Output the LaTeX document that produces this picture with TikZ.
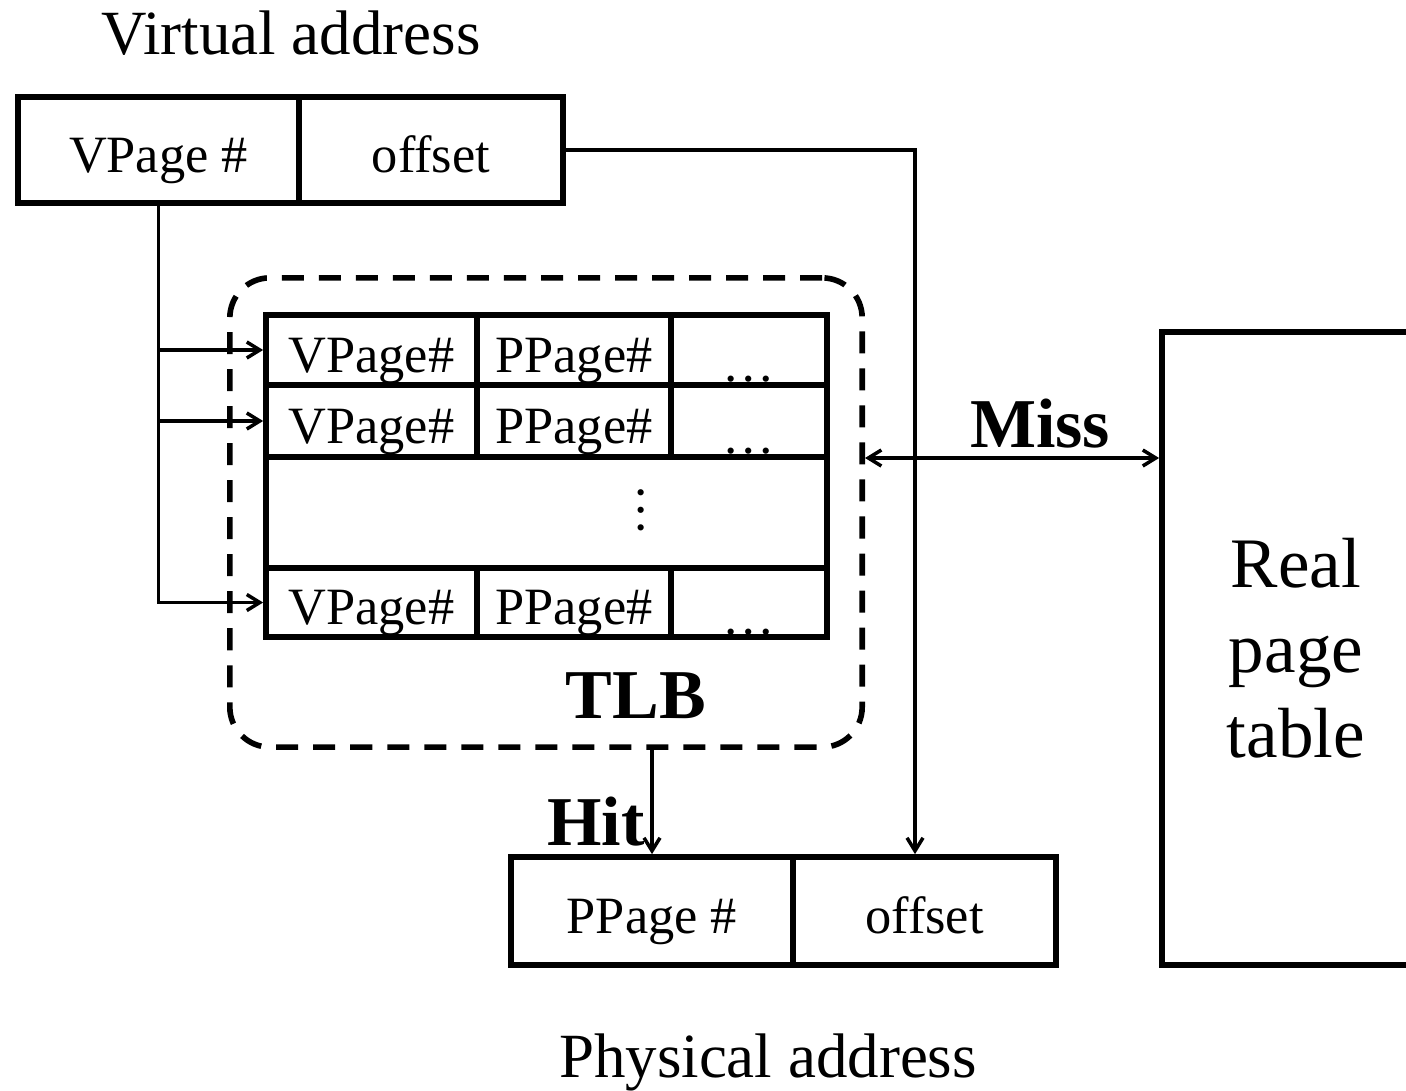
\documentclass[tikz,border=0pt]{standalone}
\usepackage{fontspec}
\setmainfont{Liberation Serif}
\usetikzlibrary{arrows.meta,calc}
\begin{document}
\begin{tikzpicture}[x=0.01cm,y=-0.01cm,
  >={Straight Barb[length=0.13cm,width=0.16cm]},
  cellfont/.style={font=\fontsize{14.9}{18}\selectfont},
  cell/.style={draw, line width=1.6pt, inner sep=0pt, cellfont, text height=0.44cm, text depth=0pt},
  conn/.style={line width=1pt},
  lbl/.style={font=\bfseries\fontsize{19.9}{24}\selectfont, anchor=base, inner sep=0pt},
  head/.style={font=\fontsize{17.9}{22}\selectfont, anchor=base, inner sep=0pt},
  dotsl/.style={cellfont, anchor=base, inner sep=0pt}]
\clip (0,0) rectangle (1406,1091);
\fill[white] (0,0) rectangle (1406,1091);

% virtual address
\node[head] (va) at (291,55) {Virtual address};
\node[cell, minimum width=2.81cm, minimum height=1.06cm] (vpn) at (158.5,150) {VPage \#};
\node[cell, minimum width=2.64cm, minimum height=1.06cm] (voff) at (431,150) {offset};

% TLB frame
\node[draw, line width=1.6pt, rounded corners=0.4cm, dash pattern=on 0.22cm off 0.15cm,
      minimum width=6.32cm, minimum height=4.69cm, inner sep=0pt] (tlb) at (546,512.5) {};
\node[lbl] (tlbl) at (636,718) {TLB};

% TLB rows
\node[cell, minimum width=2.11cm, minimum height=0.70cm] (t11) at (371.5,350) {VPage\#};
\node[cell, minimum width=1.94cm, minimum height=0.70cm] (t12) at (574,350) {PPage\#};
\node[cell, minimum width=1.56cm, minimum height=0.70cm] (t13) at (749,350) {};
\node[cell, minimum width=2.11cm, minimum height=0.72cm] (t21) at (371.5,421) {VPage\#};
\node[cell, minimum width=1.94cm, minimum height=0.72cm] (t22) at (574,421) {PPage\#};
\node[cell, minimum width=1.56cm, minimum height=0.72cm] (t23) at (749,421) {};
\node[cell, minimum width=5.61cm, minimum height=1.11cm] (t3) at (546.5,512.5) {};
\node[cell, minimum width=2.11cm, minimum height=0.69cm] (t41) at (371.5,602.5) {VPage\#};
\node[cell, minimum width=1.94cm, minimum height=0.69cm] (t42) at (574,602.5) {PPage\#};
\node[cell, minimum width=1.56cm, minimum height=0.69cm] (t43) at (749,602.5) {};
\node[dotsl] (e1) at ($(t13.south)+(0,-6)$) {\ldots};
\node[dotsl] (e2) at ($(t23.south)+(0,-6)$) {\ldots};
\node[dotsl] (e4) at ($(t43.south)+(0,-5)$) {\ldots};
\node[cellfont, rotate=90, inner sep=0pt] (vd) at (641,510) {\ldots};

% real page table
\node[draw, line width=1.6pt, inner sep=0pt, minimum width=2.68cm, minimum height=6.33cm, align=center,
      font=\fontsize{20.2}{24.2}\selectfont] (rpt) at (1296,648.5) {Real\\page\\table};

% physical address
\node[cell, minimum width=2.82cm, minimum height=1.08cm] (pp) at (652,911) {PPage \#};
\node[cell, minimum width=2.63cm, minimum height=1.08cm] (poff) at (924.5,911) {offset};
\node[head] (pa) at (768,1077) {Physical address};

% connectors
\draw[conn,->] (vpn.south) |- (t41.west);
\draw[conn,->] (vpn.south |- t11.west) -- (t11.west);
\draw[conn,->] (vpn.south |- t21.west) -- (t21.west);
\coordinate (bend) at (915,150);
\draw[conn,->] (voff.east) -- (bend) -- (bend |- poff.north);
\draw[conn,->] (tlb.south -| pp.north) -- (pp.north);
\node[lbl] (hit) at (596,845) {Hit};
\coordinate (missy) at (0,458);
\draw[conn,<->] (tlb.east |- missy) -- (rpt.west |- missy);
\node[lbl] (miss) at (1040,447) {Miss};
\end{tikzpicture}
\end{document}
